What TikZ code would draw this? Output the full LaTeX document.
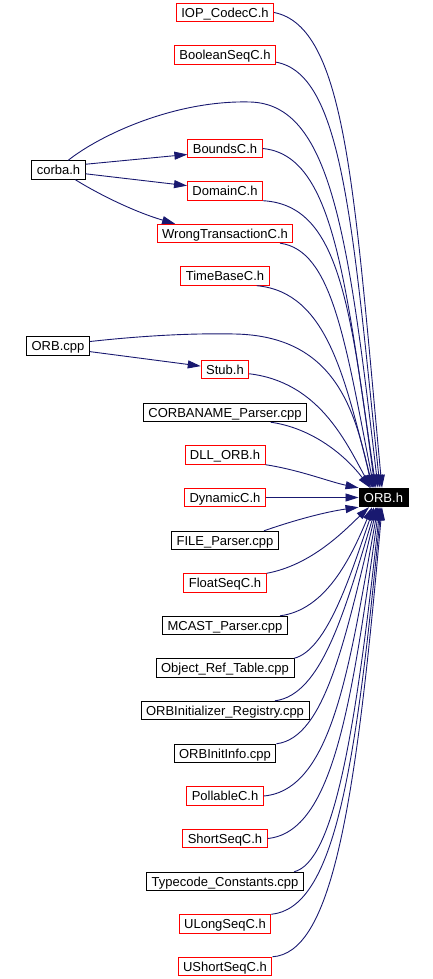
\documentclass[tikz,border=0pt]{standalone}
\usepackage{fontspec}
\setmainfont{Liberation Sans}
\usepackage{xcolor}
\usetikzlibrary{arrows.meta}
\definecolor{depblue}{HTML}{191970}
\definecolor{undoc}{HTML}{FF0000}
\tikzset{
  file/.style={draw=black, line width=0.9pt, fill=white, inner xsep=5pt, inner ysep=0pt,
    minimum height=18.5pt, text height=10.5pt, text depth=1pt, font=\fontsize{13}{15}\selectfont},
  redfile/.style={file, draw=undoc},
  focus/.style={file, fill=black, text=white},
  dep/.style={draw=depblue, line width=0.9pt, -{Triangle[length=13pt,width=8pt]}}
}

\begin{document}
\begin{tikzpicture}[x=1pt,y=-1pt]
\useasboundingbox (0,0) rectangle (433,979);
\node[redfile] (iop) at (225,12.5) {IOP\_CodecC.h};
\node[redfile] (boolseq) at (225,55) {BooleanSeqC.h};
\node[file] (corba) at (58.5,170) {corba.h};
\node[redfile] (bounds) at (225,148.5) {BoundsC.h};
\node[redfile] (domain) at (225,191) {DomainC.h};
\node[redfile] (wrongtx) at (225,233.5) {WrongTransactionC.h};
\node[redfile] (timebase) at (225,276) {TimeBaseC.h};
\node[file] (orbcpp) at (58,346) {ORB.cpp};
\node[redfile] (stub) at (225,369.5) {Stub.h};
\node[file] (corbaname) at (225,412.5) {CORBANAME\_Parser.cpp};
\node[redfile] (dllorb) at (225,455) {DLL\_ORB.h};
\node[redfile] (dynamic) at (225,497.5) {DynamicC.h};
\node[file] (fileparser) at (225,540.5) {FILE\_Parser.cpp};
\node[redfile] (floatseq) at (225,583) {FloatSeqC.h};
\node[file] (mcast) at (225,625.5) {MCAST\_Parser.cpp};
\node[file] (objref) at (225,668) {Object\_Ref\_Table.cpp};
\node[file] (initreg) at (225,710.5) {ORBInitializer\_Registry.cpp};
\node[file] (initinfo) at (225,753.5) {ORBInitInfo.cpp};
\node[redfile] (pollable) at (225,796) {PollableC.h};
\node[redfile] (shortseq) at (225,838.5) {ShortSeqC.h};
\node[file] (typecode) at (225,881.5) {Typecode\_Constants.cpp};
\node[redfile] (ulongseq) at (225,924) {ULongSeqC.h};
\node[redfile] (ushortseq) at (225,966.5) {UShortSeqC.h};
\node[focus] (orbh) at (383.5,497.5) {ORB.h};
% includes from above
\draw[dep] (iop.east) .. controls (346,27) and (354,188) .. ([xshift=-1.5pt]orbh.north);
\draw[dep] (boolseq.-8) .. controls (342,74) and (352,218) .. ([xshift=-3.5pt]orbh.north);
\draw[dep] (corba.45) .. controls (100,135) and (175,100) .. (250,102) .. controls (330,104) and (348,230) .. ([xshift=-5.5pt]orbh.north);
\draw[dep] (bounds.east) .. controls (334,155) and (345,280) .. ([xshift=-7.5pt]orbh.north);
\draw[dep] (domain.south east) .. controls (338,205) and (350,300) .. ([xshift=-8.5pt]orbh.north);
\draw[dep] (wrongtx.-10) .. controls (332,250) and (345,340) .. ([xshift=-9.5pt]orbh.north);
\draw[dep] (timebase.-17) .. controls (328,292) and (345,380) .. ([xshift=-10.5pt]orbh.north);
\draw[dep] (orbcpp.8) .. controls (140,336) and (190,333) .. (235,334) .. controls (335,336) and (355,410) .. ([xshift=-11.5pt]orbh.north);
\draw[dep] (stub.-10) .. controls (318,382) and (345,440) .. ([xshift=-12.5pt]orbh.north);
\draw[dep] (corbaname.-12) .. controls (312,428) and (345,455) .. ([xshift=-13.5pt]orbh.north);
\draw[dep] (dllorb.south east) .. controls (300,470) and (330,482) .. (orbh.north west);
\draw[dep] (dynamic.east) -- (orbh.west);
\draw[dep] (fileparser.14) .. controls (295,520) and (325,512) .. (orbh.south west);
% includes from below
\draw[dep] (floatseq.north east) .. controls (312,565) and (345,530) .. ([xshift=-14.5pt]orbh.south);
\draw[dep] (mcast.10) .. controls (325,610) and (350,560) .. ([xshift=-11.5pt]orbh.south);
\draw[dep] (objref.8) .. controls (328,650) and (352,570) .. ([xshift=-9.5pt]orbh.south);
\draw[dep] (initreg.11) .. controls (322,695) and (345,610) .. ([xshift=-7.5pt]orbh.south);
\draw[dep] (initinfo.north east) .. controls (325,738) and (345,640) .. ([xshift=-6.5pt]orbh.south);
\draw[dep] (pollable.east) .. controls (334,790) and (350,660) .. ([xshift=-5.5pt]orbh.south);
\draw[dep] (shortseq.east) .. controls (334,832) and (352,700) .. ([xshift=-4.5pt]orbh.south);
\draw[dep] (typecode.8) .. controls (333,862) and (355,740) .. ([xshift=-3.5pt]orbh.south);
\draw[dep] (ulongseq.north east) .. controls (333,908) and (355,780) .. ([xshift=-2.5pt]orbh.south);
\draw[dep] (ushortseq.north east) .. controls (330,953) and (355,820) .. ([xshift=-1.5pt]orbh.south);
% second level
\draw[dep] (corba.12) -- (bounds.-171);
\draw[dep] (corba.-8) -- (domain.172);
\draw[dep] (corba.-30) .. controls (100,195) and (135,212) .. (wrongtx.169);
\draw[dep] (orbcpp.-10) -- (stub.172);
\end{tikzpicture}
\end{document}
